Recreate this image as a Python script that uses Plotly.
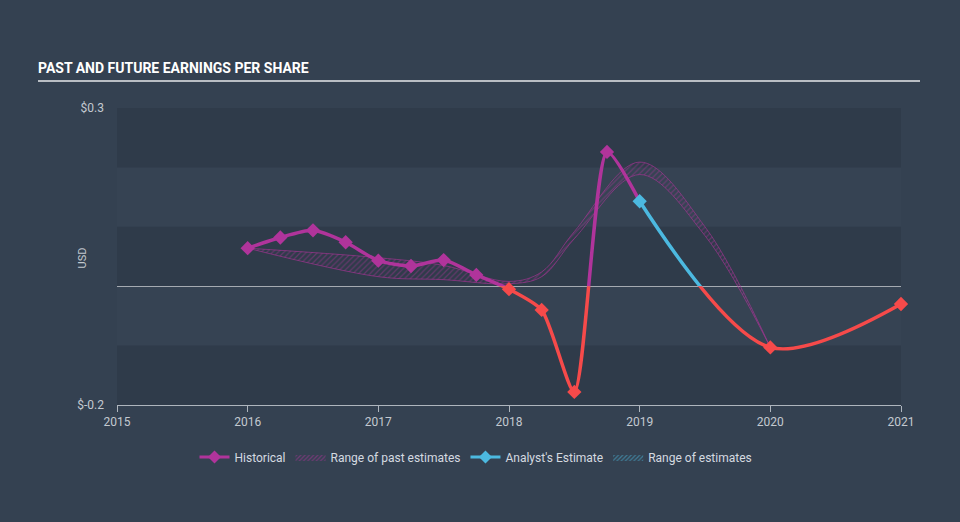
import plotly.graph_objects as go

# ---------------- data ----------------
hist_x = [2016.0, 2016.25, 2016.5, 2016.75, 2017.0, 2017.25, 2017.5, 2017.75,
          2018.0, 2018.25, 2018.5, 2018.75, 2019.0]
hist_y = [0.064, 0.082, 0.094, 0.074, 0.043, 0.034, 0.044, 0.019,
          -0.005, -0.040, -0.178, 0.226, 0.143]

est_x = [2019.0, 2020.0, 2021.0]
est_y = [0.143, -0.103, -0.030]

band_x = [2016.0, 2017.0, 2017.5, 2018.0, 2018.25, 2018.5, 2019.0, 2019.5, 2020.0]
band_hi = [0.064, 0.048, 0.035, 0.008, 0.024, 0.092, 0.209, 0.100, -0.103]
band_lo = [0.064, 0.016, 0.011, 0.004, 0.016, 0.080, 0.188, 0.085, -0.103]

year_ticks = [2015, 2016, 2017, 2018, 2019, 2020, 2021]
y_ticks_top = [0.3]
y_ticks_bottom = [-0.2]

# ---------------- styles ----------------
PAPER = "#344151"
LIGHT = "#364353"
DARK = "#2f3b4a"
PURPLE = "#b0349b"
RED = "#f64a4a"
BLUE = "#4cb9e0"
TXT = "#c3c9d0"
FONT = "Roboto, 'Open Sans', sans-serif"

fig = go.Figure()

# estimate bands drawn in both halves (each clipped to its half)
for ax in ("y", "y2"):
    fig.add_trace(go.Scatter(x=band_x, y=band_lo, yaxis=ax, mode="lines",
                             line=dict(color="rgba(176,52,155,0.75)", width=0.8, shape="spline", smoothing=1),
                             showlegend=False, hoverinfo="skip"))
    fig.add_trace(go.Scatter(x=band_x, y=band_hi, yaxis=ax, mode="lines", fill="tonexty",
                             fillcolor="rgba(0,0,0,0)",
                             fillpattern=dict(shape="/", fgcolor="rgba(176,52,155,0.8)",
                                              bgcolor="rgba(0,0,0,0)", size=4, solidity=0.3),
                             line=dict(color="rgba(176,52,155,0.75)", width=0.8, shape="spline", smoothing=1),
                             showlegend=False, hoverinfo="skip"))

# lines: upper half coloured, lower half red (each clipped to its half)
for xs, ys, col, sm in ((hist_x, hist_y, PURPLE, 0.65), (est_x, est_y, BLUE, 0.9)):
    fig.add_trace(go.Scatter(x=xs, y=ys, yaxis="y", mode="lines",
                             line=dict(color=col, width=3.5, shape="spline", smoothing=sm),
                             showlegend=False))
    fig.add_trace(go.Scatter(x=xs, y=ys, yaxis="y2", mode="lines",
                             line=dict(color=RED, width=3.5, shape="spline", smoothing=sm),
                             showlegend=False))

# markers
hm_x = hist_x[:-1]
hm_y = hist_y[:-1]
for xs, ys, col in ((hm_x, hm_y, PURPLE), (est_x, est_y, BLUE)):
    fig.add_trace(go.Scatter(x=xs, y=[v if v >= 0 else None for v in ys], yaxis="y",
                             mode="markers", cliponaxis=False,
                             marker=dict(symbol="diamond", size=11, color=col),
                             showlegend=False))
    fig.add_trace(go.Scatter(x=xs, y=[v if v < 0 else None for v in ys], yaxis="y2",
                             mode="markers", cliponaxis=False,
                             marker=dict(symbol="diamond", size=11, color=RED),
                             showlegend=False))

# legend entries
fig.add_trace(go.Scatter(x=[None], y=[None], mode="lines+markers", name="Historical",
                         line=dict(color=PURPLE, width=3), marker=dict(symbol="diamond", size=10, color=PURPLE)))
fig.add_trace(go.Scatter(x=[None, None], y=[None, None], mode="lines", name="Range of past estimates",
                         fill="toself", fillcolor="rgba(0,0,0,0)",
                         fillpattern=dict(shape="/", fgcolor=PURPLE, bgcolor="rgba(0,0,0,0)", size=3, solidity=0.4),
                         line=dict(width=0)))
fig.add_trace(go.Scatter(x=[None], y=[None], mode="lines+markers", name="Analyst's Estimate",
                         line=dict(color=BLUE, width=3), marker=dict(symbol="diamond", size=10, color=BLUE)))
fig.add_trace(go.Scatter(x=[None, None], y=[None, None], mode="lines", name="Range of estimates",
                         fill="toself", fillcolor="rgba(0,0,0,0)",
                         fillpattern=dict(shape="/", fgcolor=BLUE, bgcolor="rgba(0,0,0,0)", size=3, solidity=0.4),
                         line=dict(width=0)))

# background bands
shapes = [
    dict(type="rect", xref="paper", yref="y", x0=0, x1=1, y0=0.2, y1=0.3, fillcolor=DARK, line_width=0, layer="below"),
    dict(type="rect", xref="paper", yref="y", x0=0, x1=1, y0=0.0, y1=0.1, fillcolor=DARK, line_width=0, layer="below"),
    dict(type="rect", xref="paper", yref="y2", x0=0, x1=1, y0=-0.2, y1=-0.1, fillcolor=DARK, line_width=0, layer="below"),
    dict(type="line", xref="paper", yref="y2", x0=0, x1=1, y0=0, y1=0, line=dict(color="#ffffff", width=1.3), layer="below"),
    dict(type="line", xref="paper", yref="paper", x0=(38 - 117) / 784, x1=(920 - 117) / 784,
         y0=(405 - 81) / 297, y1=(405 - 81) / 297, line=dict(color="#b9bec4", width=2)),
]

fig.update_layout(
    width=960, height=522,
    margin=dict(l=117, r=59, t=108, b=117),
    paper_bgcolor=PAPER, plot_bgcolor=LIGHT,
    font=dict(family=FONT, color=TXT, size=12),
    title=dict(text="<b>PAST AND FUTURE EARNINGS PER SHARE</b>",
               font=dict(family="Roboto, sans-serif", size=14, color="#ffffff"),
               x=38 / 960, xanchor="left", xref="container",
               y=1 - 68 / 522, yanchor="middle", yref="container"),
    xaxis=dict(range=[2015, 2021], anchor="y2", tickvals=year_ticks,
               ticktext=[str(v) for v in year_ticks], showgrid=False, zeroline=False,
               showline=True, linecolor="#aeb5bd", linewidth=1, ticks="outside", ticklen=6,
               tickcolor="#aeb5bd", tickfont=dict(color=TXT, size=12)),
    yaxis=dict(domain=[0.4, 1], range=[0, 0.3], tickvals=y_ticks_top,
               ticktext=["$0.3"], showgrid=False, zeroline=False, showline=False,
               ticks="", ticklabelstandoff=12, tickfont=dict(color=TXT, size=12)),
    yaxis2=dict(domain=[0, 0.4], range=[-0.2, 0], tickvals=y_ticks_bottom,
                ticktext=["$-0.2"], showgrid=False, zeroline=False, showline=False,
                ticks="", ticklabelstandoff=12, tickfont=dict(color=TXT, size=12)),
    shapes=shapes,
    annotations=[dict(text="USD", textangle=-90, xref="paper", yref="paper",
                      x=(73 - 117) / 784, y=(405 - 258) / 297, showarrow=False,
                      font=dict(color=TXT, size=11))],
    legend=dict(orientation="h", x=(476 - 117) / 784, xanchor="center",
                y=(405 - 457) / 297, yanchor="middle", bgcolor="rgba(0,0,0,0)",
                traceorder="normal",
                font=dict(color="#d5dae0", size=12), itemwidth=30, tracegroupgap=0),
    showlegend=True,
)

fig.write_html("out.html")
